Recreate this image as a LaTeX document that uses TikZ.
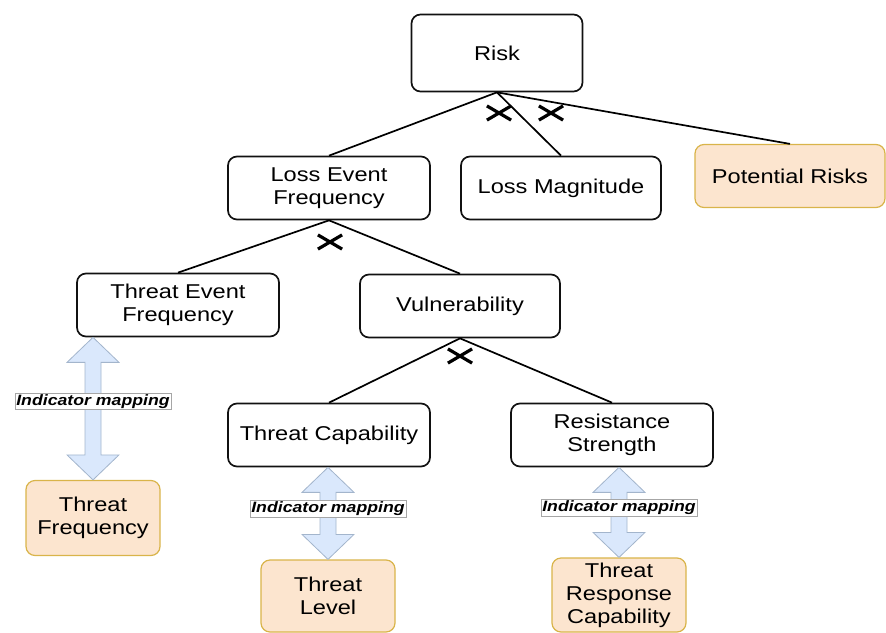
\documentclass[tikz,border=0pt]{standalone}
\usepackage{fontspec}
\setmainfont{Liberation Sans}[FakeStretch=1.18]
\usepackage{tikz}
\usetikzlibrary{calc, shapes.misc}

\definecolor{boxline}{HTML}{111111}
\definecolor{indfill}{HTML}{FCE5CF}
\definecolor{indline}{HTML}{D9B44A}
\definecolor{mapfill}{HTML}{DAE8FC}
\definecolor{mapline}{HTML}{A3B5CC}

\begin{document}
\begin{tikzpicture}[
  x=1pt, y=-1pt,
  factor/.style={draw=boxline, line width=1.7pt, rounded corners=9pt, fill=white,
    minimum width=202, minimum height=63, align=center, inner sep=2pt,
    font=\fontsize{20}{23}\selectfont, text=black},
  indicator/.style={factor, draw=indline, fill=indfill, line width=1.2pt},
  maparrow/.style={draw=mapline, fill=mapfill, line width=0.8pt, line join=miter},
  maplabel/.style={fill=white, draw=black!35, line width=0.4pt, inner sep=1.2pt,
    font=\fontsize{15}{17}\selectfont\bfseries\itshape},
  xmark/.style={cross out, draw=black, line width=3.2pt, minimum width=21,
    minimum height=11, inner sep=0pt},
  edge/.style={draw=black, line width=1.7pt}
]
  \useasboundingbox (0,0) rectangle (886,632);

  % top level
  \node[factor, minimum width=171, minimum height=77] (risk) at (497,53) {Risk};
  % second level
  \node[factor] (lef) at (329,188) {Loss Event\\Frequency};
  \node[factor, minimum width=200] (lm) at (561,188) {Loss Magnitude};
  \node[indicator, minimum width=190] (pr) at (790,176) {Potential Risks};
  % third level
  \node[factor] (tef) at (178,305) {Threat Event\\Frequency};
  \node[factor, minimum width=200] (vul) at (460,306) {Vulnerability};
  % fourth level
  \node[factor] (tc) at (329,435) {Threat Capability};
  \node[factor] (rs) at (612,435) {Resistance\\Strength};
  % indicators
  \node[indicator, minimum width=134, minimum height=75] (tfq) at (93,518) {Threat\\Frequency};
  \node[indicator, minimum width=134, minimum height=72] (tl) at (328,596) {Threat\\Level};
  \node[indicator, minimum width=134, minimum height=74] (trc) at (619,595) {Threat\\Response\\Capability};

  % tree connections
  \draw[edge] (risk.south) -- (lef.north);
  \draw[edge] (risk.south) -- (lm.north);
  \draw[edge] (risk.south) -- (pr.north);
  \draw[edge] (lef.south) -- (tef.north);
  \draw[edge] (lef.south) -- (vul.north);
  \draw[edge] (vul.south) -- (tc.north);
  \draw[edge] (vul.south) -- (rs.north);

  % product marks
  \node[xmark] (x1) at (499,113) {};
  \node[xmark] (x2) at (551,113) {};
  \node[xmark] (x3) at (330,242) {};
  \node[xmark] (x4) at (460,356) {};

  % indicator mappings
  \foreach \a/\b/\p in {tef/tfq/0.45, tc/tl/0.45, rs/trc/0.45} {
    \draw[maparrow] let \p1=(\b.north), \p2=(\a.south) in
      (\x1,\y2) -- (\x1+26pt,\y2-25pt) -- (\x1+8pt,\y2-25pt) -- (\x1+8pt,\y1+25pt)
      -- (\x1+26pt,\y1+25pt) -- (\x1,\y1) -- (\x1-26pt,\y1+25pt) -- (\x1-8pt,\y1+25pt)
      -- (\x1-8pt,\y2-25pt) -- (\x1-26pt,\y2-25pt) -- cycle;
    \node[maplabel] (lab\a) at ($(\b.north |- \a.south)!\p!(\b.north)$) {Indicator mapping};
  }
\end{tikzpicture}
\end{document}
